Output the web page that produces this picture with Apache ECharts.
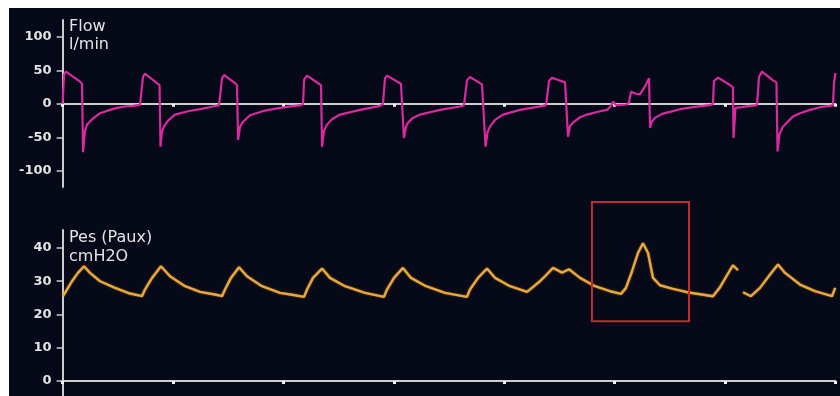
<!DOCTYPE html>
<html><head><meta charset="utf-8">
<script src="https://cdn.jsdelivr.net/npm/echarts@6/dist/echarts.min.js"></script>
<style>
html,body{margin:0;padding:0;background:#fff;width:840px;height:396px;overflow:hidden}
#c{position:absolute;left:9px;top:8px;width:831px;height:388px;background:#060a18}
</style>
</head><body><div id="c"></div>
<script>
// ---- tick labels ----
const flowTicks = [-100, -50, 0, 50, 100];
const presTicks = [0, 10, 20, 30, 40];

// ---- Flow (l/min) ----
const flowTime = [
  0.000,0.013,0.031,0.158,0.176,0.185,0.203,0.221,0.275,0.339,0.429,0.493,0.565,0.638,0.701,
  0.719,0.728,0.746,0.855,0.878,0.887,0.900,0.918,0.955,1.018,1.136,1.245,1.362,1.417,
  1.435,1.444,1.462,1.562,1.580,1.589,1.607,1.634,1.697,1.833,1.969,2.105,2.159,
  2.178,2.187,2.214,2.322,2.341,2.350,2.368,2.395,2.440,2.513,2.694,2.784,2.875,
  2.902,2.920,2.938,3.065,3.083,3.092,3.110,3.129,3.174,3.237,3.418,3.600,3.636,
  3.654,3.663,3.690,3.799,3.817,3.831,3.849,3.871,3.917,3.989,4.143,4.351,4.379,
  4.397,4.406,4.433,4.551,4.569,4.578,4.596,4.623,4.687,4.750,4.868,4.931,4.958,4.986,5.013,5.112,
  5.130,5.149,5.194,5.230,5.275,5.312,5.321,5.339,5.366,5.429,5.502,5.592,5.710,5.864,
  5.891,5.900,5.937,6.045,6.072,6.077,6.095,6.154,6.226,6.290,
  6.299,6.308,6.335,6.435,6.466,6.476,6.494,6.525,6.571,6.616,6.679,6.770,6.860,6.951,6.978,6.987,7.000
];
const flowValues = [
  0,44,48,33,30,-72,-40,-31,-22,-14,-9,-6,-4,-3,-1.5,
  0,40,45,31,28,-64,-42,-34,-25,-16,-11,-8,-4,-2,
  0,38,43,31,28,-54,-34,-27,-17,-10,-6,-3,-2,
  0,36,42,30,28,-64,-40,-31,-23,-16,-9,-6,-3,
  0,38,42,30,28,-51,-34,-28,-21,-16,-9,-4,-2,
  0,35,40,29,27,-64,-42,-34,-24,-16,-9,-3,-2,
  0,34,39,32,31,-49,-33,-28,-20,-16,-11,-9,-5,3,-2,-1,
  2,18,15,14,26,38,-36,-26,-21,-15,-12,-8,-5,-2,
  0,34,39,28,25,-51,-6,-5,-3,-2,
  0,40,48,35,32,-71,-45,-34,-26,-19,-14,-9,-5,-3,-2,30,46
];

// ---- Pes (Paux) (cmH2O) ----
const presTime = [
  0.004,0.031,0.085,0.139,0.194,0.248,0.339,0.475,0.611,0.719,
  0.746,0.810,0.891,0.973,1.109,1.245,1.380,1.444,
  1.471,1.525,1.598,1.670,1.806,1.969,2.105,2.187,
  2.214,2.268,2.350,2.422,2.558,2.739,2.911,
  2.938,3.002,3.083,3.156,3.292,3.464,3.663,
  3.690,3.763,3.844,3.917,4.053,4.207,
  4.324,4.370,4.442,4.524,4.587,4.687,4.822,4.958,5.058,
  5.103,5.158,5.212,5.257,5.303,5.348,5.411,5.520,5.656,5.891,
  5.955,6.045,6.072,6.118,6.136,6.163,6.235,
  6.317,6.408,6.480,6.544,6.679,6.815,6.969,6.998
];
const presValues = [
  25.5,27,30,32.5,34.5,32.5,30,28,26.3,25.5,
  27.5,31,34.5,31.5,28.5,26.8,26,25.5,
  27.5,31,34.2,31.5,28.5,26.5,25.8,25.3,
  27.5,31,33.8,31,28.5,26.5,25.3,
  27.5,31,34,31,28.5,26.5,25.3,
  27.5,31,33.8,31,28.5,26.8,
  30,31.5,34,32.6,33.6,31,28.5,27,26.2,
  28,33,38.5,41.4,38.5,31,28.8,27.8,26.7,25.5,
  28.2,33.3,34.8,33.3,null,26.7,25.5,
  28,32,35,32.5,29,27,25.5,28
];

// ---- highlighted region (time s, cmH2O) ----
const boxTime = [4.795, 5.674];
const boxPressure = [18.0, 53.8];

const zip = (a, b) => a.map((t, i) => [t, b[i]]);

const axisGray = '#cdcdcd';
const labelColor = '#e4e4e4';
const font = 'DejaVu Sans';

function xAxisCfg(gi) {
  return {
    type: 'value', gridIndex: gi, min: 0, max: 7, interval: 1,
    axisLine: { show: true, onZero: true, lineStyle: { color: axisGray, width: 2 } },
    axisTick: { show: true, length: 3, lineStyle: { color: '#f2f2f2', width: 3 } },
    axisLabel: { show: false }, splitLine: { show: false }
  };
}
function yAxisCfg(gi, min, max, ticks) {
  return {
    type: 'value', gridIndex: gi, min: min, max: max,
    axisLine: { show: true, onZero: false, lineStyle: { color: axisGray, width: 2 } },
    axisTick: { show: true, length: 6, customValues: ticks, lineStyle: { color: axisGray, width: 1.5 } },
    axisLabel: { show: true, customValues: ticks, color: labelColor, fontSize: 13, fontWeight: 'bold', fontFamily: font, margin: 11 },
    splitLine: { show: false }
  };
}

const chart = echarts.init(document.getElementById('c'), null, { renderer: 'canvas' });
chart.setOption({
  backgroundColor: '#060a18',
  animation: false,
  grid: [
    { left: 53.6, width: 772.8, top: 12, height: 167 },
    { left: 53.6, width: 772.8, top: 222, height: 166 }
  ],
  xAxis: [xAxisCfg(0), xAxisCfg(1)],
  yAxis: [yAxisCfg(0, -124, 125, flowTicks), yAxisCfg(1, -4.5, 45.4, presTicks)],
  series: [
    {
      name: 'Flow', type: 'line', xAxisIndex: 0, yAxisIndex: 0,
      data: zip(flowTime, flowValues), showSymbol: false, connectNulls: false,
      lineStyle: { color: '#d82a9e', width: 2.2 }, z: 3
    },
    {
      name: 'Pes (Paux)', type: 'line', xAxisIndex: 1, yAxisIndex: 1,
      data: zip(presTime, presValues), showSymbol: false, connectNulls: false,
      lineStyle: { color: '#eaa83c', width: 2.4, shadowColor: 'rgba(230,150,40,0.6)', shadowBlur: 2 }, z: 3
    }
  ]
});

const p0 = chart.convertToPixel({ gridIndex: 1 }, [boxTime[0], boxPressure[1]]);
const p1 = chart.convertToPixel({ gridIndex: 1 }, [boxTime[1], boxPressure[0]]);

chart.setOption({
  graphic: [
    { type: 'text', left: 60, top: 10, style: { text: 'Flow\nl/min', fill: labelColor, fontSize: 16, fontFamily: font, lineHeight: 18 } },
    { type: 'text', left: 60, top: 220, style: { text: 'Pes (Paux)\ncmH2O', fill: labelColor, fontSize: 16, fontFamily: font, lineHeight: 19 } },
    { type: 'rect', shape: { x: p0[0], y: p0[1], width: p1[0] - p0[0], height: p1[1] - p0[1] },
      style: { fill: 'none', stroke: '#c42a30', lineWidth: 2 }, z: 10 }
  ]
});
</script>
</body></html>
